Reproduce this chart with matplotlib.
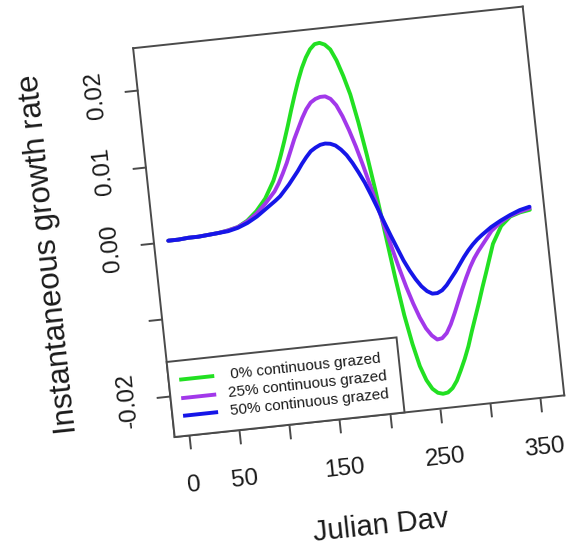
import matplotlib
matplotlib.use("Agg")
import matplotlib.pyplot as plt
from matplotlib.patches import Rectangle
from matplotlib.transforms import Affine2D
import mpl_toolkits.axisartist.floating_axes as floating_axes
from mpl_toolkits.axisartist.grid_finder import FixedLocator, DictFormatter

plt.rcParams["font.family"] = ["Liberation Sans", "DejaVu Sans"]

# ---- data -------------------------------------------------------------
day = [0, 10, 20, 30, 40, 50, 60, 70, 80, 90, 100,
       110, 115, 120, 125, 130, 135, 140, 145, 150, 155, 160, 165, 170,
       175, 180, 185, 190, 195, 200, 205, 210, 215, 220, 225, 230, 235,
       240, 245, 250, 255, 260, 265, 270, 275, 280, 285, 290, 295, 300,
       305, 310, 320, 330, 340, 350, 360]

growth_0 = [0.0001, 0.0001, 0.0002, 0.0002, 0.0003, 0.0004, 0.0006, 0.0009,
            0.0016, 0.0027, 0.0042,
            0.0064, 0.0079, 0.0096, 0.0114, 0.0133, 0.0153, 0.0172, 0.0190,
            0.0206, 0.0219, 0.0229, 0.0235, 0.0236,
            0.0233, 0.0226, 0.0211, 0.0190, 0.0165, 0.0128, 0.0084, 0.0034,
            -0.0022, -0.0078, -0.0128, -0.0166, -0.0196,
            -0.0215, -0.0227, -0.0233, -0.0235, -0.0234, -0.0229, -0.0220,
            -0.0207, -0.0193, -0.0177, -0.0158, -0.0140, -0.0122,
            -0.0103, -0.0085, -0.0048, -0.0026, -0.0015, -0.0011, -0.0009]

growth_25 = [0.0001, 0.0001, 0.0002, 0.0002, 0.0003, 0.0004, 0.0006, 0.0009,
             0.0015, 0.0024, 0.0036,
             0.0050, 0.0060, 0.0072, 0.0085, 0.0100, 0.0115, 0.0128, 0.0141,
             0.0152, 0.0160, 0.0164, 0.0166, 0.0166,
             0.0162, 0.0153, 0.0138, 0.0119, 0.0097, 0.0072, 0.0045, 0.0017,
             -0.0012, -0.0040, -0.0067, -0.0092, -0.0114,
             -0.0133, -0.0148, -0.0158, -0.0164, -0.0163, -0.0157, -0.0146,
             -0.0132, -0.0117, -0.0102, -0.0088, -0.0075, -0.0064,
             -0.0055, -0.0047, -0.0031, -0.0021, -0.0014, -0.0010, -0.0007]

growth_50 = [0.0001, 0.0001, 0.0002, 0.0002, 0.0003, 0.0004, 0.0005, 0.0008,
             0.0013, 0.0020, 0.0029,
             0.0038, 0.0043, 0.0050, 0.0057, 0.0065, 0.0073, 0.0082, 0.0090,
             0.0097, 0.0101, 0.0104, 0.0105, 0.0104,
             0.0101, 0.0095, 0.0087, 0.0076, 0.0063, 0.0049, 0.0032, 0.0014,
             -0.0005, -0.0023, -0.0040, -0.0057, -0.0071,
             -0.0083, -0.0093, -0.0100, -0.0104, -0.0104, -0.0101, -0.0095,
             -0.0087, -0.0079, -0.0070, -0.0061, -0.0053, -0.0046,
             -0.0040, -0.0035, -0.0026, -0.0019, -0.0013, -0.0008, -0.0005]

series = [growth_0, growth_25, growth_50]
series_labels = [" 0% continuous grazed", "25% continuous grazed",
                 "50% continuous grazed"]
series_colors = ["#22e022", "#a238ea", "#1616e8"]

x_ticks = [0, 50, 100, 150, 200, 250, 300, 350]
x_tick_labels = ["0", "50", "", "150", "", "250", "", "350"]
y_ticks = [-0.02, -0.01, 0.0, 0.01, 0.02]
y_tick_labels = ["-0.02", "", "0.00", "0.01", "0.02"]

x_label = "Julian Dav"
y_label = "Instantaneous growth rate"

# ---- layout -----------------------------------------------------------
TILT = 6.1               # degrees, counter-clockwise
PX_PER_DAY = 1.0077
PX_PER_RATE = 7687.0
CENTER = (348.7 / 572, 1 - 221.8 / 552)
FRAME = "#4a4a4a"
INK = "#1a1a1a"
LW = 2.8


def padded(values):
    lo, hi = min(values), max(values)
    pad = 0.04 * (hi - lo)
    return lo - pad, hi + pad


x0, x1 = padded(day)
y0, y1 = padded(growth_0 + growth_25 + growth_50)

tilt = Affine2D().scale(1.0, PX_PER_RATE / PX_PER_DAY).rotate_deg(TILT)
helper = floating_axes.GridHelperCurveLinear(
    tilt, extremes=(x0, x1, y0, y1),
    grid_locator1=FixedLocator(x_ticks),
    grid_locator2=FixedLocator(y_ticks),
    tick_formatter1=DictFormatter(dict(zip(x_ticks, x_tick_labels))),
    tick_formatter2=DictFormatter(dict(zip(y_ticks, y_tick_labels))))

fig = plt.figure(figsize=(5.72, 5.52), dpi=100)
ax = fig.add_axes([0.1, 0.1, 0.8, 0.8],
                  axes_class=floating_axes.FloatingAxes, grid_helper=helper)

# size the host so one day spans PX_PER_DAY pixels
W, H = fig.get_size_inches() * fig.dpi
xl, yl = ax.get_xlim(), ax.get_ylim()
w = (xl[1] - xl[0]) * PX_PER_DAY / W
h = (yl[1] - yl[0]) * PX_PER_DAY / H
ax.set_position([CENTER[0] - w / 2, CENTER[1] - h / 2, w, h])

for side in ["left", "bottom", "right", "top"]:
    ax.axis[side].line.set_color(FRAME)
    ax.axis[side].line.set_linewidth(1.4)
for side in ["right", "top"]:
    ax.axis[side].toggle(ticks=False, ticklabels=False, label=False)

for side in ["left", "bottom"]:
    art = ax.axis[side]
    art.major_ticks.set_tick_out(True)
    art.major_ticks.set_ticksize(10)
    art.major_ticks.set_color(FRAME)
    art.major_ticks.set_markeredgecolor(FRAME)
    art.major_ticks.set_markeredgewidth(1.4)
    art.major_ticklabels.set_fontsize(17.5)
    art.major_ticklabels.set_color(INK)

# y tick labels run along the axis
ylab = ax.axis["left"].major_ticklabels
ylab.set_rotation(180)
ylab.set_ha("center")
ylab.set_va("center")
ylab.set_pad(0.5)

ax.axis["bottom"].major_ticklabels.set_pad(18)

ax.axis["bottom"].label.set_text(x_label)
ax.axis["bottom"].label.set_fontsize(21)
ax.axis["bottom"].label.set_color(INK)
ax.axis["bottom"].label.set_pad(29)

ax.axis["left"].label.set_text(y_label)
ax.axis["left"].label.set_fontsize(22.5)
ax.axis["left"].label.set_color(INK)
ax.axis["left"].label.set_pad(14.5)

aux = ax.get_aux_axes(tilt)
for values, color in zip(series, series_colors):
    aux.plot(day, values, color=color, lw=LW, solid_capstyle="round",
             zorder=2)


def frame_point(fx, fy):
    return x0 + fx * (x1 - x0), y0 + fy * (y1 - y0)


# legend drawn in the tilted frame, anchored to the lower-left corner
aux.add_patch(Rectangle((x0, y0), 0.59 * (x1 - x0), 0.193 * (y1 - y0),
                        facecolor="white", edgecolor=FRAME, lw=1.4, zorder=3))
rows = [0.1445, 0.0969, 0.0516]
for fy, label, color in zip(rows, series_labels, series_colors):
    xa, ya = frame_point(0.032, fy)
    xb, yb = frame_point(0.112, fy)
    aux.plot([xa, xb], [ya, yb], color=color, lw=LW, zorder=4)
    xt, yt = frame_point(0.147, fy)
    aux.text(xt, yt, label, fontsize=11, color=INK, rotation=TILT,
             rotation_mode="anchor", ha="left", va="center", zorder=4)

fig.savefig("out.png", dpi=100, facecolor="white")
